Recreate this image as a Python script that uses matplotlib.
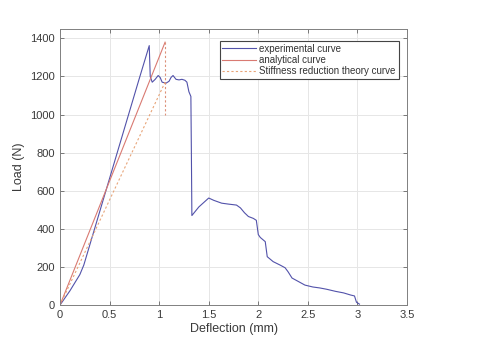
import numpy as np
import matplotlib.pyplot as plt

plt.rcParams['font.family'] = ['Liberation Sans', 'DejaVu Sans']

# experimental curve (deflection mm, load N)
exp_x = [0.0, 0.10, 0.20, 0.24, 0.40, 0.60, 0.80, 0.90, 0.91, 0.93, 0.96, 0.99, 1.01,
         1.03, 1.07, 1.10, 1.12, 1.14, 1.17, 1.20, 1.23, 1.26, 1.28, 1.30, 1.32, 1.325,
         1.33, 1.40, 1.50, 1.55, 1.63, 1.70, 1.78, 1.82, 1.86, 1.90, 1.95, 1.98, 2.00,
         2.02, 2.07, 2.09, 2.15, 2.22, 2.27, 2.30, 2.34, 2.40, 2.47, 2.55, 2.62, 2.69,
         2.78, 2.86, 2.93, 2.97, 2.99, 3.02]
exp_y = [0, 75, 160, 210, 490, 840, 1190, 1362, 1200, 1170, 1185, 1205, 1195,
         1170, 1165, 1175, 1195, 1205, 1185, 1182, 1185, 1180, 1170, 1120, 1095, 800,
         470, 515, 562, 550, 535, 530, 525, 510, 485, 465, 455, 445, 370,
         355, 333, 254, 228, 210, 196, 175, 142, 125, 105, 95, 90, 83,
         72, 64, 53, 48, 15, 5]

# analytical curve
ana_x = [0.0, 1.06]
ana_y = [0, 1380]

# stiffness reduction theory curve
stiff_x = [0.0, 1.06]
stiff_y = [0, 1170]

# vertical drop at failure
drop_x = [1.06, 1.06]
drop_y = [1380, 1000]

fig = plt.figure(figsize=(4.8, 3.56), dpi=100)
ax = fig.add_axes([0.125, 0.143, 0.723, 0.776])

ax.plot(exp_x, exp_y, color='#5252aa', lw=0.8, label='experimental curve')
ax.plot(ana_x, ana_y, color='#d97a72', lw=0.8, label='analytical curve')
ax.plot(stiff_x, stiff_y, color='#e8a478', lw=0.8, ls=(0, (2, 2)),
        label='Stiffness reduction theory curve')
ax.plot(drop_x, drop_y, color='#dc9078', lw=0.8, ls=(0, (2, 2)))

ax.set_xlim(0, 3.5)
ax.set_ylim(0, 1450)
ax.set_xticks(np.arange(0, 3.6, 0.5))
ax.set_xticklabels(['0', '0.5', '1', '1.5', '2', '2.5', '3', '3.5'])
ax.set_yticks(np.arange(0, 1401, 200))
ax.grid(True, color='#e6e6e6', lw=0.7)
ax.set_axisbelow(True)
ax.tick_params(direction='in', length=3, top=True, right=True, labelsize=8,
               colors='#666666', labelcolor='#3a3a3a', width=0.6)
for s in ax.spines.values():
    s.set_color('#808080')
    s.set_linewidth(0.7)

ax.set_xlabel('Deflection (mm)', fontsize=9, color='#3a3a3a', labelpad=2)
ax.set_ylabel('Load (N)', fontsize=9, color='#3a3a3a', labelpad=4)

leg = ax.legend(loc='upper right', bbox_to_anchor=(0.99, 0.975), fontsize=7,
                fancybox=False, framealpha=1, edgecolor='#444444',
                borderpad=0.3, labelspacing=0.15, handlelength=3.4, handletextpad=0.4)
leg.get_frame().set_linewidth(0.8)
for t in leg.get_texts():
    t.set_color('#333333')

fig.savefig('out.png', dpi=100)
